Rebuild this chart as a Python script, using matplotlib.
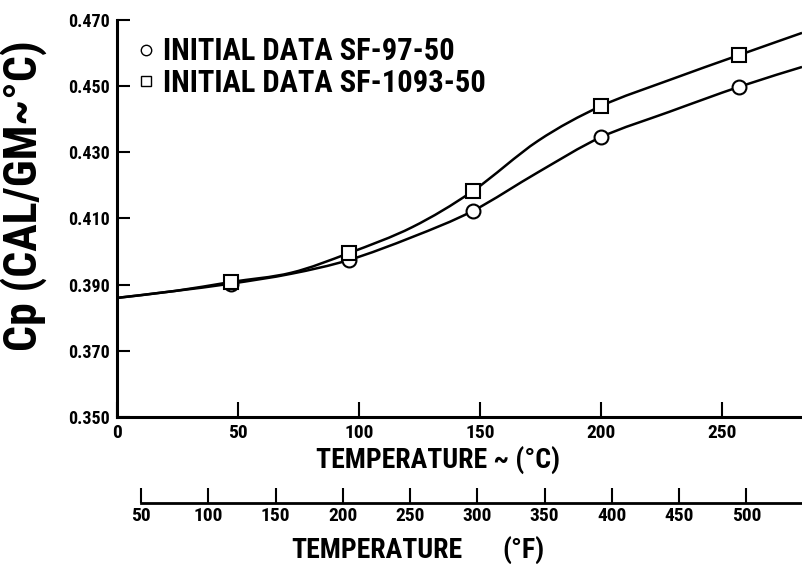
import numpy as np
import matplotlib
matplotlib.use("Agg")
import matplotlib.pyplot as plt
from matplotlib.path import Path
from matplotlib.patches import PathPatch
from matplotlib.ticker import FixedLocator, FormatStrFormatter

# measured points (deg C, cal/gm-C)
temps_c = [47, 96, 147, 200, 257]
cp_97 = [0.3903, 0.3975, 0.4123, 0.4346, 0.4498]
cp_1093 = [0.3908, 0.3996, 0.4183, 0.4440, 0.4594]

# faired curves
curve_t = [0, 24, 47, 72, 96, 122, 147, 174, 200, 228, 257, 283]
curve_97 = [0.3860, 0.3881, 0.3903, 0.3933, 0.3975, 0.4044, 0.4123,
            0.4240, 0.4346, 0.4422, 0.4498, 0.4558]
curve_1093 = [0.3860, 0.3881, 0.3908, 0.3936, 0.3996, 0.4074, 0.4183,
              0.4335, 0.4440, 0.4518, 0.4594, 0.4661]

y_ticks = [0.350, 0.370, 0.390, 0.410, 0.430, 0.450, 0.470]
c_ticks = [0, 50, 100, 150, 200, 250]
f_ticks = [50, 100, 150, 200, 250, 300, 350, 400, 450, 500]

labels = ["INITIAL DATA SF-97-50", "INITIAL DATA SF-1093-50"]

plt.rcParams["font.family"] = ["Roboto Condensed", "DejaVu Sans"]
plt.rcParams["font.stretch"] = "condensed"
plt.rcParams["font.weight"] = "bold"
plt.rcParams["axes.labelweight"] = "bold"


def smooth_path(x, y):
    # Catmull-Rom through the read points, as cubic bezier segments
    pts = np.column_stack([x, y])
    n = len(pts)
    verts = [pts[0]]
    codes = [Path.MOVETO]
    for i in range(n - 1):
        p0 = pts[max(i - 1, 0)]
        p1 = pts[i]
        p2 = pts[i + 1]
        p3 = pts[min(i + 2, n - 1)]
        verts += [p1 + (p2 - p0) / 6, p2 - (p3 - p1) / 6, p2]
        codes += [Path.CURVE4] * 3
    return Path(verts, codes)


fig = plt.figure(figsize=(8.02, 5.64), dpi=100)
ax = fig.add_axes([117 / 802, 147 / 564, 685 / 802, 397 / 564])
ax.set_xlim(0, 283)
ax.set_ylim(0.350, 0.470)

for cv in (curve_97, curve_1093):
    ax.add_patch(PathPatch(smooth_path(curve_t, cv), fill=False,
                           lw=1.8, color="black", zorder=2))

ax.plot(temps_c, cp_97, "o", ms=10, mfc="white", mec="black", mew=1.5,
        ls="none", zorder=3, label=labels[0])
ax.plot(temps_c, cp_1093, "s", ms=10, mfc="white", mec="black", mew=1.5,
        ls="none", zorder=3, label=labels[1])

for s in ("top", "right"):
    ax.spines[s].set_visible(False)
for s in ("left", "bottom"):
    ax.spines[s].set_linewidth(2.2)

ax.yaxis.set_major_locator(FixedLocator(y_ticks))
ax.yaxis.set_major_formatter(FormatStrFormatter("%.3f"))
ax.xaxis.set_major_locator(FixedLocator(c_ticks))
ax.tick_params(axis="y", direction="in", length=9, width=1.5, labelsize=13, pad=5)
ax.tick_params(axis="x", direction="in", length=11, width=1.5, labelsize=14, pad=5)

ax.set_xlabel("TEMPERATURE ~ (°C)", fontsize=20)
ax.xaxis.set_label_coords(0.469, -0.073)
ax.set_ylabel("Cp (CAL/GM~°C)", fontsize=33)
ax.yaxis.set_label_coords(-0.102, 0.557)

leg = ax.legend(loc="upper left", bbox_to_anchor=(0.005, 1.005), frameon=False,
                fontsize=22, handlelength=0.5, handletextpad=0.3,
                labelspacing=0.05, borderaxespad=0.2, markerscale=0.75)
for h in leg.legend_handles:
    h.set_markeredgewidth(1.0)


def c2f(c):
    return np.asarray(c) * 9 / 5 + 32


def f2c(f):
    return (np.asarray(f) - 32) * 5 / 9


sec = ax.secondary_xaxis(-0.217, functions=(c2f, f2c))
sec.xaxis.set_major_locator(FixedLocator(f_ticks))
sec.tick_params(axis="x", direction="in", length=11, width=1.5, labelsize=14, pad=3)
sec.spines["bottom"].set_linewidth(2.0)
sec.spines["bottom"].set_bounds(50, c2f(283))

fig.text(377 / 802, 1 - 550 / 564, "TEMPERATURE", fontsize=20,
         ha="center", va="center")
fig.text(523 / 802, 1 - 550 / 564, "(°F)", fontsize=20,
         ha="center", va="center")

fig.savefig("out.png", dpi=100)
